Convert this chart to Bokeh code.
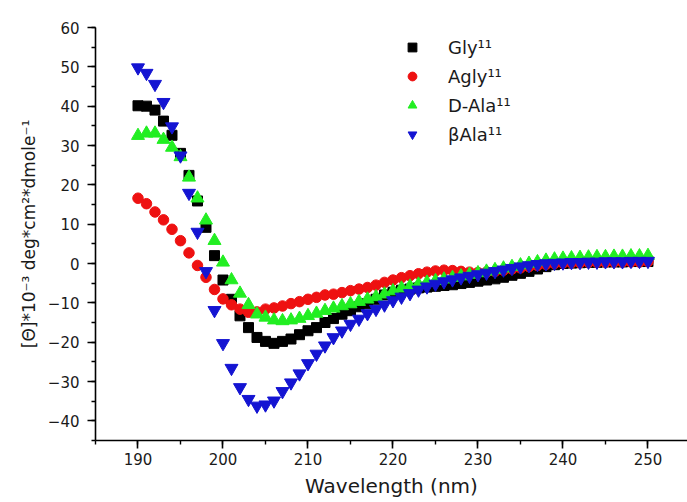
from bokeh.plotting import figure
from bokeh.models import Range1d, SingleIntervalTicker, Legend, LegendItem, ColumnDataSource
from bokeh.embed import file_html
from bokeh.resources import INLINE

wavelength = list(range(190, 251))

gly = [40.1, 40.0, 39.0, 36.2, 32.6, 28.0, 22.4, 15.9, 9.2, 2.0,
       -4.2, -9.1, -13.3, -16.3, -18.8, -19.8, -20.3, -19.8, -19.2, -18.1,
       -17.1, -16.3, -15.0, -14.0, -12.9, -12.0, -11.0, -10.2, -9.1, -8.0,
       -7.3, -6.8, -6.5, -6.2, -6.0, -5.8, -5.6, -5.4, -5.1, -4.8,
       -4.5, -4.2, -3.9, -3.5, -3.0, -2.5, -2.0, -1.4, -0.8, -0.3,
       0.0, 0.1, 0.2, 0.3, 0.3, 0.4, 0.4, 0.4, 0.5, 0.5, 0.5]

agly = [16.6, 15.2, 13.1, 11.1, 8.7, 5.8, 2.7, -0.5, -3.5, -6.6,
        -9.0, -10.5, -11.6, -12.4, -12.3, -11.6, -11.3, -10.8, -10.2, -9.7,
        -9.1, -8.6, -8.0, -7.8, -7.4, -6.9, -6.5, -6.1, -5.5, -4.8,
        -4.2, -3.6, -3.1, -2.6, -2.2, -1.9, -1.7, -1.8, -2.0, -2.2,
        -2.3, -2.2, -2.0, -1.7, -1.4, -1.1, -0.8, -0.5, -0.2, 0.0,
        0.1, 0.2, 0.2, 0.3, 0.3, 0.3, 0.4, 0.4, 0.4, 0.4, 0.5]

dala = [32.5, 33.1, 33.1, 31.5, 29.5, 27.1, 21.9, 16.6, 11.0, 5.8,
        0.3, -4.2, -7.6, -10.5, -12.9, -13.7, -14.4, -14.6, -14.4, -14.0,
        -13.3, -12.7, -12.0, -11.4, -10.8, -10.3, -9.7, -9.1, -8.5, -7.8,
        -7.0, -6.3, -5.8, -5.3, -4.8, -4.4, -4.0, -3.6, -3.2, -2.8,
        -2.4, -2.0, -1.6, -1.2, -0.8, -0.4, 0.0, 0.4, 0.8, 1.1,
        1.3, 1.4, 1.5, 1.6, 1.7, 1.7, 1.8, 1.8, 1.9, 1.9, 2.0]

bala = [49.8, 48.4, 45.6, 41.0, 34.8, 27.4, 17.9, 8.0, -2.0, -11.9,
        -20.3, -26.6, -31.5, -34.5, -36.2, -35.9, -34.9, -32.5, -30.3, -28.0,
        -25.4, -23.0, -20.9, -18.8, -17.1, -15.4, -14.1, -12.7, -11.6, -10.5,
        -9.4, -8.5, -7.6, -6.7, -5.9, -5.2, -4.6, -4.1, -3.6, -3.2,
        -2.8, -2.4, -2.0, -1.6, -1.2, -0.8, -0.5, -0.2, 0.0, 0.1,
        0.2, 0.3, 0.3, 0.4, 0.4, 0.5, 0.5, 0.5, 0.6, 0.6, 0.6]

series_labels = ["Gly\u00b9\u00b9", "Agly\u00b9\u00b9", "D-Ala\u00b9\u00b9", "\u03b2Ala\u00b9\u00b9"]

FONT = "DejaVu Sans"

src = ColumnDataSource(dict(w=wavelength, gly=gly, agly=agly, dala=dala, bala=bala))

p = figure(width=687, height=502,
           x_range=Range1d(185, 254.65), y_range=Range1d(-45, 60),
           output_backend="svg", toolbar_location=None,
           min_border_left=95, min_border_right=0,
           min_border_top=27, min_border_bottom=62)
p.outline_line_color = None
p.grid.visible = False
p.background_fill_color = "white"
p.border_fill_color = "white"

r1 = p.scatter("w", "gly", source=src, marker="square", size=10,
               fill_color="#000000", line_color="#000000")
r2 = p.scatter("w", "agly", source=src, marker="circle", size=10.5,
               fill_color="#ee1111", line_color="#ee1111")
r3 = p.scatter("w", "dala", source=src, marker="triangle", size=13,
               fill_color="#22ee22", line_color="#22ee22")
r4 = p.scatter("w", "bala", source=src, marker="inverted_triangle", size=13,
               fill_color="#1414d2", line_color="#1414d2")

for ax in (p.xaxis[0], p.yaxis[0]):
    ax.ticker = SingleIntervalTicker(interval=10, num_minor_ticks=2)
    ax.axis_line_width = 1.6
    ax.axis_line_color = "black"
    ax.major_tick_line_width = 1.6
    ax.minor_tick_line_width = 1.4
    ax.major_tick_out = 8
    ax.major_tick_in = 0
    ax.minor_tick_out = 4
    ax.minor_tick_in = 0
    ax.major_label_text_font = FONT
    ax.major_label_text_font_size = "15px"
    ax.major_label_text_color = "#1a1a1a"
    ax.axis_label_text_font = FONT
    ax.axis_label_text_font_style = "normal"
    ax.axis_label_text_color = "#1a1a1a"

p.xaxis.axis_label = "Wavelength (nm)"
p.xaxis.axis_label_text_font_size = "20px"
p.xaxis.major_label_standoff = 4
p.xaxis.axis_label_standoff = 6

p.yaxis.axis_label = "[\u0398]*10\u207b\u00b3 deg*cm\u00b2*dmole\u207b\u00b9"
p.yaxis.axis_label_text_font_size = "17px"
p.yaxis.major_label_standoff = 8
p.yaxis.axis_label_standoff = 6

legend = Legend(items=[LegendItem(label=series_labels[0], renderers=[r1]),
                       LegendItem(label=series_labels[1], renderers=[r2]),
                       LegendItem(label=series_labels[2], renderers=[r3]),
                       LegendItem(label=series_labels[3], renderers=[r4])],
                location=(303, 295), orientation="vertical",
                border_line_color=None, background_fill_alpha=0,
                glyph_width=28, glyph_height=22, label_height=22,
                spacing=7, label_standoff=22, padding=0, margin=0,
                label_text_font=FONT, label_text_font_size="18px",
                label_text_color="#1a1a1a")
p.add_layout(legend)

open("out.html", "w").write(file_html(p, INLINE))
